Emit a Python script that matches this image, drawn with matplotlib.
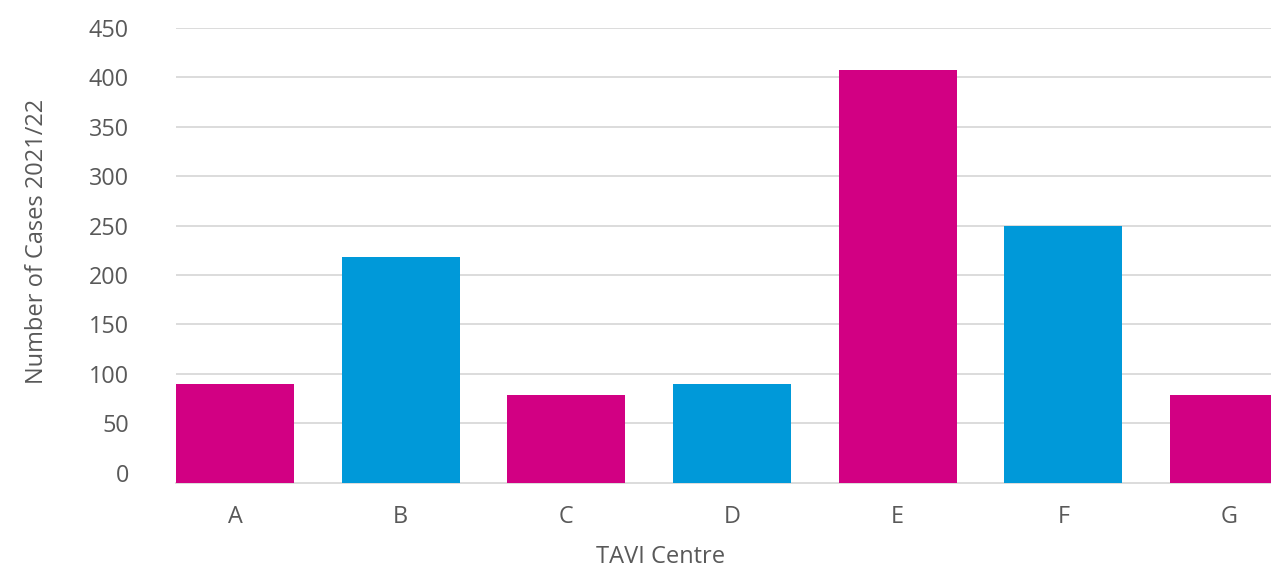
import numpy as np
import matplotlib.pyplot as plt

# TAVI cases per centre, 2021/22
centres = ["A", "B", "C", "D", "E", "F", "G"]
cases = [90, 218, 78, 90, 407, 250, 78]
bar_colours = ["#D20083", "#0099D9", "#D20083", "#0099D9", "#D20083", "#0099D9", "#D20083"]

plt.rcParams["font.family"] = ["Open Sans", "DejaVu Sans"]
text_grey = "#595959"
grid_grey = "#D9D9D9"

fig = plt.figure(figsize=(12.71, 5.68), dpi=100)
ax = fig.add_axes([176 / 1271, (568 - 482.7) / 568, 1095 / 1271, 454.7 / 568])

floor = -10.3
x = np.arange(len(centres))
heights = np.array(cases) - floor
ax.bar(x, heights, bottom=floor, width=0.712, color=bar_colours, zorder=3)

ax.set_ylim(floor, 450)
ax.set_xlim(-0.356, 6.254)
ax.set_yticks(np.arange(0, 451, 50))
ax.set_xticks(x)
ax.set_xticklabels(centres)

# gridlines from 50 up, none at zero
for v in range(50, 451, 50):
    ax.axhline(v, color=grid_grey, lw=1.3, zorder=1)

for side in ["left", "right", "top"]:
    ax.spines[side].set_visible(False)
ax.spines["bottom"].set_color(grid_grey)
ax.spines["bottom"].set_linewidth(1.3)

ax.tick_params(axis="y", length=0, pad=34, labelsize=16.8, labelcolor=text_grey)
ax.tick_params(axis="x", length=0, pad=16, labelsize=16.8, labelcolor=text_grey)

ax.set_xlabel("TAVI Centre", fontsize=17, color=text_grey, va="center")
ax.xaxis.set_label_coords((661 - 176) / 1095, (482.7 - 557) / 454.7)
ax.set_ylabel("Number of Cases 2021/22", fontsize=17, color=text_grey, va="center")
ax.yaxis.set_label_coords((37 - 176) / 1095, (482.7 - 241) / 454.7)

fig.savefig("out.png", dpi=100)
